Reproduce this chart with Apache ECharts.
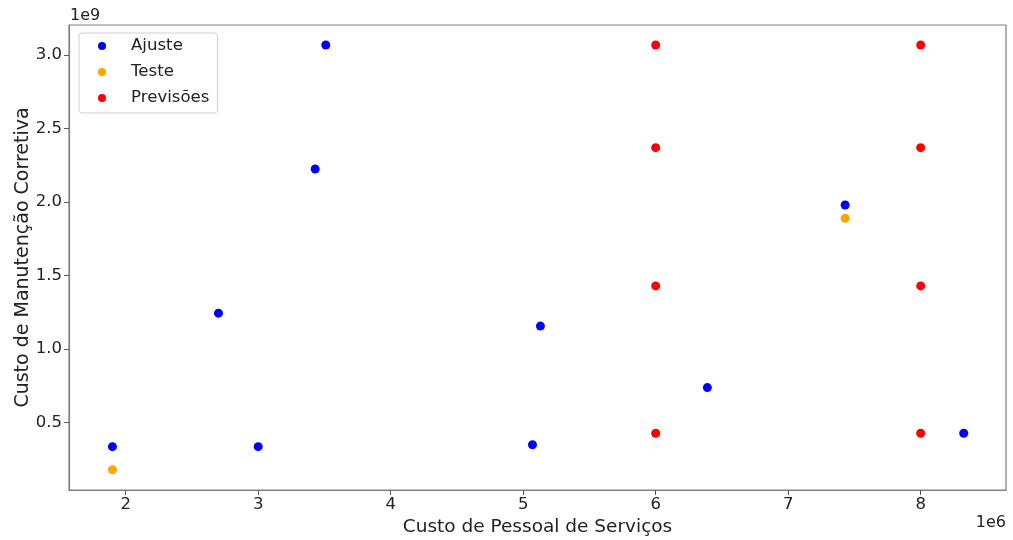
<!DOCTYPE html>
<html><head><meta charset="utf-8">
<script src="https://cdn.jsdelivr.net/npm/echarts@6/dist/echarts.min.js"></script>
<style>html,body{margin:0;padding:0;background:#fff}#c{width:1013px;height:540px}</style>
</head><body><div id="c"></div>
<script>
// x in units of 1e6, y in units of 1e9
const ajusteX = [1.9, 2.7, 3.0, 3.43, 3.51, 5.07, 5.13, 6.39, 7.43, 8.325];
const ajusteY = [0.337, 1.245, 0.337, 2.225, 3.068, 0.35, 1.157, 0.739, 1.98, 0.428];
const testeX = [1.9, 7.43];
const testeY = [0.18, 1.89];
const prevX = [6, 6, 6, 6, 8, 8, 8, 8];
const prevY = [3.068, 2.37, 1.43, 0.428, 3.068, 2.37, 1.43, 0.428];
const xTicks = [2, 3, 4, 5, 6, 7, 8];
const yTicks = [0.5, 1.0, 1.5, 2.0, 2.5, 3.0];
const xRange = [1.572, 8.644];
const yRange = [0.0425, 3.204];

const zip = (a, b) => a.map((v, i) => [v, b[i]]);
const font = 'DejaVu Sans';
const chart = echarts.init(document.getElementById('c'));
chart.setOption({
  animation: false,
  grid: { left: 69, right: 7, top: 25, bottom: 50, containLabel: false, outerBoundsMode: 'none', show: true, borderColor: '#808080', borderWidth: 1.2, backgroundColor: 'transparent' },
  xAxis: {
    type: 'value', min: xRange[0], max: xRange[1],
    name: 'Custo de Pessoal de Serviços', nameLocation: 'middle', nameGap: 28,
    nameTextStyle: { fontFamily: font, fontSize: 18.5, color: '#222' },
    axisLine: { show: true, lineStyle: { color: '#808080', width: 1.2 } },
    axisTick: { show: true, length: 5, lineStyle: { color: '#555' }, customValues: xTicks },
    axisLabel: { fontFamily: font, fontSize: 16.5, color: '#222', margin: 6, customValues: xTicks, formatter: v => String(v) },
    splitLine: { show: false }
  },
  yAxis: {
    type: 'value', min: yRange[0], max: yRange[1],
    name: 'Custo de Manutenção Corretiva', nameLocation: 'middle', nameGap: 36, nameMoveOverlap: false,
    nameTextStyle: { fontFamily: font, fontSize: 19, color: '#222' },
    axisLine: { show: true, lineStyle: { color: '#808080', width: 1.2 } },
    axisTick: { show: true, length: 5, lineStyle: { color: '#555' }, customValues: yTicks },
    axisLabel: { fontFamily: font, fontSize: 16.5, color: '#222', margin: 7, customValues: yTicks, formatter: v => v.toFixed(1) },
    splitLine: { show: false }
  },
  legend: {
    orient: 'vertical', left: 79, top: 33,
    padding: [3, 8, 5, 19], itemGap: 6,
    itemWidth: 8, itemHeight: 8, icon: 'circle',
    borderColor: '#d0d0d0', borderWidth: 1, borderRadius: 3, backgroundColor: '#fff',
    textStyle: { fontFamily: font, fontSize: 16.6, color: '#222', lineHeight: 20, padding: [0, 0, 0, 20] },
    data: ['Ajuste', 'Teste', 'Previsões']
  },
  graphic: [
    { type: 'text', left: 70, top: 8, style: { text: '1e9', font: '16px "DejaVu Sans"', fill: '#222' } },
    { type: 'text', right: 7, top: 515, style: { text: '1e6', font: '16px "DejaVu Sans"', fill: '#222' } }
  ],
  series: [
    { name: 'Ajuste', type: 'scatter', symbolSize: 9, itemStyle: { color: '#0000ff', opacity: 1 }, data: zip(ajusteX, ajusteY) },
    { name: 'Teste', type: 'scatter', symbolSize: 9, itemStyle: { color: '#ffa500', opacity: 1 }, data: zip(testeX, testeY) },
    { name: 'Previsões', type: 'scatter', symbolSize: 9, itemStyle: { color: '#ff0000', opacity: 1 }, data: zip(prevX, prevY) }
  ]
});
</script></body></html>
